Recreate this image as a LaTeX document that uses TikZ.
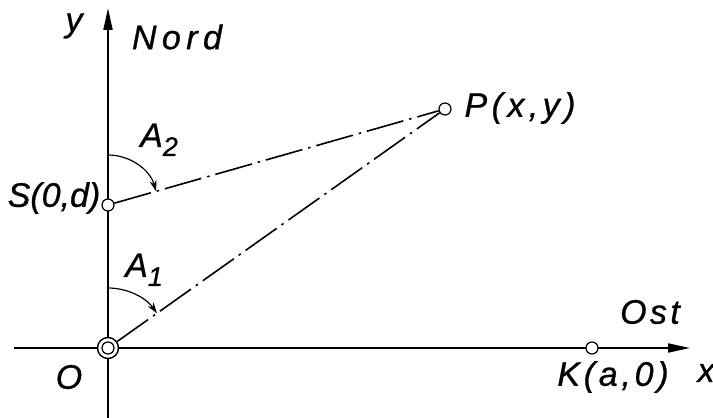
\documentclass[tikz,border=0pt]{standalone}
\usepackage{fontspec}
\setmainfont{Liberation Sans}[ItalicFeatures={FakeBold=0.8}]
\usetikzlibrary{arrows.meta}
\newcommand{\lsp}[2]{{\addfontfeatures{LetterSpace=#1}#2}}
\tikzset{
  lbl/.style={font=\fontsize{34}{34}\selectfont\itshape, inner sep=0pt},
  axisline/.style={line width=1.9pt, -{Triangle[length=22pt,width=9pt]}},
  pt/.style={circle, draw, line width=1.2pt, fill=white, inner sep=0pt, minimum size=12pt},
  origin/.style={circle, draw, line width=1.4pt, fill=white, inner sep=0pt, minimum size=21pt},
  dashdot/.style={line width=1.6pt, dash pattern=on 38pt off 6pt on 2.5pt off 6pt},
  anglearc/.style={line width=1.2pt, -{Stealth[length=11pt,width=7pt]}}
}
\begin{document}
\begin{tikzpicture}[x=1pt,y=1pt]
\useasboundingbox (0,0) rectangle (713,418);
% axes
\coordinate (yb) at (108,0);
\coordinate (yt) at (108,410);
\coordinate (xl) at (14,70);
\coordinate (xr) at (690,70);
\draw[axisline] (yb) -- (yt);
\draw[axisline] (xl) -- (xr);
% points
\node[origin] (O) at (108,70) {};
\draw[line width=1.2pt] (O) circle[radius=6];
\node[pt] (S) at (108,213) {};
\node[pt] (P) at (445,309) {};
\node[pt] (K) at (592,70) {};
% lines
\draw[dashdot] (S) -- (P);
\draw[dashdot] (O) -- (P);
% angle arcs
\draw[anglearc] (108,263) arc[start angle=90, end angle=15.9, radius=50];
\draw[anglearc] (108,130) arc[start angle=90, end angle=35.3, radius=60];
% labels
\node[lbl] (ylab) at (74,392) {y};
\node[lbl] (nord) at (177,381) {\lsp{16}{Nord}};
\node[lbl] (slab) at (54,220) {S(0,d)};
\node[lbl] (plab) at (520,310) {\lsp{13}{P(x,y)}};
\node[lbl] (ost) at (650,106) {\lsp{10}{Ost}};
\node[lbl] (xlab) at (706,45) {x};
\node[lbl] (klab) at (613,41) {\lsp{11}{K(a,0)}};
\node[lbl] (olab) at (69,41) {O};
\node[lbl, anchor=base west] (a2) at (140,271) {A\raisebox{-9pt}{\fontsize{27}{27}\selectfont 2}};
\node[lbl, anchor=base west] (a1) at (125,141) {A\raisebox{-9pt}{\fontsize{27}{27}\selectfont 1}};
\end{tikzpicture}
\end{document}
